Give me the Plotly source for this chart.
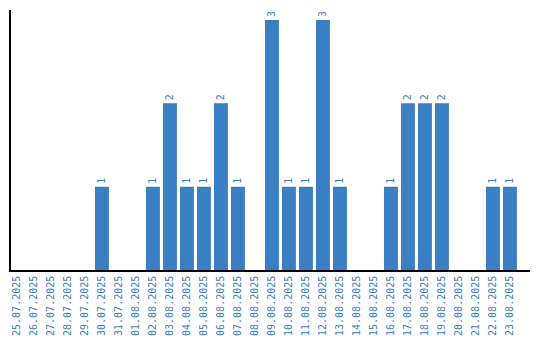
import plotly.graph_objects as go

dates = ["25.07.2025","26.07.2025","27.07.2025","28.07.2025","29.07.2025","30.07.2025","31.07.2025",
         "01.08.2025","02.08.2025","03.08.2025","04.08.2025","05.08.2025","06.08.2025","07.08.2025",
         "08.08.2025","09.08.2025","10.08.2025","11.08.2025","12.08.2025","13.08.2025","14.08.2025",
         "15.08.2025","16.08.2025","17.08.2025","18.08.2025","19.08.2025","20.08.2025","21.08.2025",
         "22.08.2025","23.08.2025"]
counts = [0,0,0,0,0,1,0,0,1,2,1,1,2,1,0,3,1,1,3,1,0,0,1,2,2,2,0,0,1,1]

blue = "#3a7ec3"
fig = go.Figure(go.Bar(
    x=dates, y=counts, marker_color=blue, marker_line_width=0,
    text=[str(c) if c > 0 else "" for c in counts],
    textposition="outside", textangle=-90,
    textfont=dict(family="DejaVu Sans Mono", size=10, color=blue),
    cliponaxis=False, width=0.82,
))
fig.update_layout(
    width=540, height=340, margin=dict(l=11, r=10, t=10, b=70),
    plot_bgcolor="white", paper_bgcolor="white", showlegend=False,
    font=dict(family="DejaVu Sans Mono", size=10, color=blue),
)
fig.update_xaxes(type="category", tickangle=-90, showline=True, linecolor="black", linewidth=1.5,
                 range=[-0.35, 30.18], automargin=False,
                 ticks="", showgrid=False, tickfont=dict(family="DejaVu Sans Mono", size=10, color=blue))
fig.update_yaxes(range=[0, 3.12], showline=True, linecolor="black", linewidth=1.5, automargin=False,
                 showticklabels=False, ticks="", showgrid=False, zeroline=False)
fig.write_html("out.html")
